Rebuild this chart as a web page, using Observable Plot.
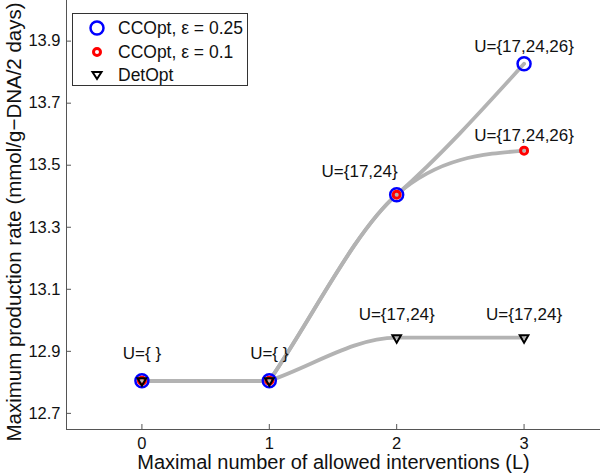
<!DOCTYPE html>
<html><head><meta charset="utf-8">
<script src="https://cdn.jsdelivr.net/npm/d3@7"></script>
<script src="https://cdn.jsdelivr.net/npm/@observablehq/plot@0.6"></script>
<style>
body{margin:0;background:#fff;}
#wrap{position:relative;width:600px;height:474px;font-family:"Liberation Sans",Arial,Helvetica,sans-serif;}
.legend{position:absolute;left:72px;top:13px;width:176px;height:73px;border:1px solid #333;background:#fff;box-sizing:border-box;}
.legend svg{position:absolute;left:14px;}
.legend span{position:absolute;left:45px;line-height:20px;font-size:17.5px;color:#111;white-space:nowrap;}
</style>
</head><body><div id="wrap"></div>
<script>
// ---- data ----
const L = [0, 1, 2, 3];
const ccopt25 = [12.805, 12.805, 13.405, 13.827];
const ccopt10 = [12.805, 12.805, 13.405, 13.547];
const detopt  = [12.805, 12.805, 12.944, 12.944];
const ccopt25Labels = ["U={ }", "U={ }", "U={17,24}", "U={17,24,26}"];
const ccopt10Labels = [null, null, null, "U={17,24,26}"];
const detoptLabels  = [null, null, "U={17,24}", "U={17,24}"];
const xTicks = [0, 1, 2, 3];
const yTicks = [12.7, 12.9, 13.1, 13.3, 13.5, 13.7, 13.9];
const xDomain = [-0.592, 3.6];
const yDomain = [12.648, 14.031];
const seriesNames = ["CCOpt, \u03b5 = 0.25", "CCOpt, \u03b5 = 0.1", "DetOpt"];
const xLabel = "Maximal number of allowed interventions (L)";
const yLabel = "Maximum production rate (mmol/g\u2212DNA/2 days)";

const rows = (vals, labels) => L.map((l, i) => ({L: l, v: vals[i], label: labels[i]}));
const r25 = rows(ccopt25, ccopt25Labels);
const r10 = rows(ccopt10, ccopt10Labels);
const rDet = rows(detopt, detoptLabels);

// smooth piecewise-Hermite curve (style only): kinks where a flat run ends
function smoothCurve(context) {
  let xs, ys;
  const K = 0.6, eps = 1e-9;
  return {
    areaStart() {}, areaEnd() {},
    lineStart() { xs = []; ys = []; },
    point(x, y) { xs.push(+x); ys.push(+y); },
    lineEnd() {
      const n = xs.length;
      if (!n) return;
      context.moveTo(xs[0], ys[0]);
      const s = [];
      for (let i = 0; i < n - 1; i++) s.push((ys[i + 1] - ys[i]) / (xs[i + 1] - xs[i]));
      let prevEnd = 0;
      for (let i = 0; i < n - 1; i++) {
        const h = xs[i + 1] - xs[i];
        let a;
        if (i === 0) a = s[0];
        else a = (Math.abs(prevEnd) < eps && Math.abs(s[i]) > eps) ? s[i] : prevEnd;
        if (Math.abs(s[i]) < eps) a = 0;
        let b;
        if (i === n - 2) b = (3 * s[i] - a) / 2;
        else if (Math.abs(s[i]) < eps || Math.abs(s[i + 1]) < eps || s[i] * s[i + 1] < 0) b = 0;
        else b = K * s[i];
        context.bezierCurveTo(xs[i] + h / 3, ys[i] + a * h / 3, xs[i + 1] - h / 3, ys[i + 1] - b * h / 3, xs[i + 1], ys[i + 1]);
        prevEnd = b;
      }
    }
  };
}

const FONT = '"Liberation Sans",Arial,Helvetica,sans-serif';
const lineStyle = {x: "L", y: "v", curve: smoothCurve, stroke: "#b3b3b3", strokeWidth: 3.8};

const chart = Plot.plot({
  width: 600, height: 474,
  marginLeft: 66, marginRight: 0, marginTop: 0, marginBottom: 45,
  style: {fontFamily: FONT, fontSize: "16px", color: "#111", background: "white"},
  x: {domain: xDomain},
  y: {domain: yDomain},
  marks: [
    Plot.ruleX([xDomain[0]], {stroke: "#555", strokeWidth: 1}),
    Plot.ruleY([yDomain[0]], {stroke: "#555", strokeWidth: 1}),
    Plot.axisX({ticks: xTicks, tickSize: -5, tickPadding: 13, label: null, stroke: "#555", fontSize: 16.5, tickFormat: d => String(d)}),
    Plot.axisY({ticks: yTicks, tickSize: -5, tickPadding: 11, label: null, stroke: "#555", fontSize: 16.5, tickFormat: d3.format(".1f")}),
    Plot.text([xLabel], {frameAnchor: "bottom", textAnchor: "middle", lineAnchor: "middle", dy: 33, fontSize: 20, fill: "#111"}),
    Plot.text([yLabel], {frameAnchor: "left", textAnchor: "middle", lineAnchor: "middle", rotate: -90, dx: -52, dy: 7, fontSize: 20.5, fill: "#111"}),
    Plot.line(r25, lineStyle),
    Plot.line(r10, lineStyle),
    Plot.line(rDet, lineStyle),
    Plot.dot(r25, {x: "L", y: "v", r: 6.5, stroke: "#0000ff", strokeWidth: 2.5, fill: "none"}),
    Plot.dot(r10, {x: "L", y: "v", r: 3.5, stroke: "#ff0000", strokeWidth: 3, fill: "none"}),
    Plot.dot(rDet, {x: "L", y: "v", symbol: "triangle", r: 3.2, rotate: 180, stroke: "black", strokeWidth: 2, fill: "none"}),
    Plot.text(r25.filter(d => d.L < 2), {x: "L", y: "v", text: "label", dy: -27, fontSize: 17, fill: "#111"}),
    Plot.text(r25.filter(d => d.L === 2), {x: "L", y: "v", text: "label", dy: -23, dx: 1, textAnchor: "end", fontSize: 17, fill: "#111"}),
    Plot.text(r25.filter(d => d.L === 3), {x: "L", y: "v", text: "label", dy: -17, fontSize: 17, fill: "#111"}),
    Plot.text(r10.filter(d => d.label), {x: "L", y: "v", text: "label", dy: -15, fontSize: 17, fill: "#111"}),
    Plot.text(rDet.filter(d => d.label), {x: "L", y: "v", text: "label", dy: -23, fontSize: 17, fill: "#111"})
  ]
});
const wrap = document.getElementById("wrap");
wrap.appendChild(chart);

// legend
const legend = document.createElement("div");
legend.className = "legend";
const symbols = [
  '<circle cx="10" cy="10" r="6.5" fill="none" stroke="#0000ff" stroke-width="2.5"/>',
  '<circle cx="10" cy="10" r="3.5" fill="none" stroke="#ff0000" stroke-width="3"/>',
  '<path d="M5.5,7 L14.5,7 L10,14 Z" fill="none" stroke="black" stroke-width="2" stroke-linejoin="miter"/>'
];
const rowTops = [4, 28, 51];
seriesNames.forEach((name, i) => {
  const s = document.createElementNS("http://www.w3.org/2000/svg", "svg");
  s.setAttribute("width", 20); s.setAttribute("height", 20);
  s.style.top = rowTops[i] + "px";
  s.innerHTML = symbols[i];
  const t = document.createElement("span");
  t.textContent = name;
  t.style.top = rowTops[i] + "px";
  legend.appendChild(s);
  legend.appendChild(t);
});
wrap.appendChild(legend);
</script>
</body></html>
